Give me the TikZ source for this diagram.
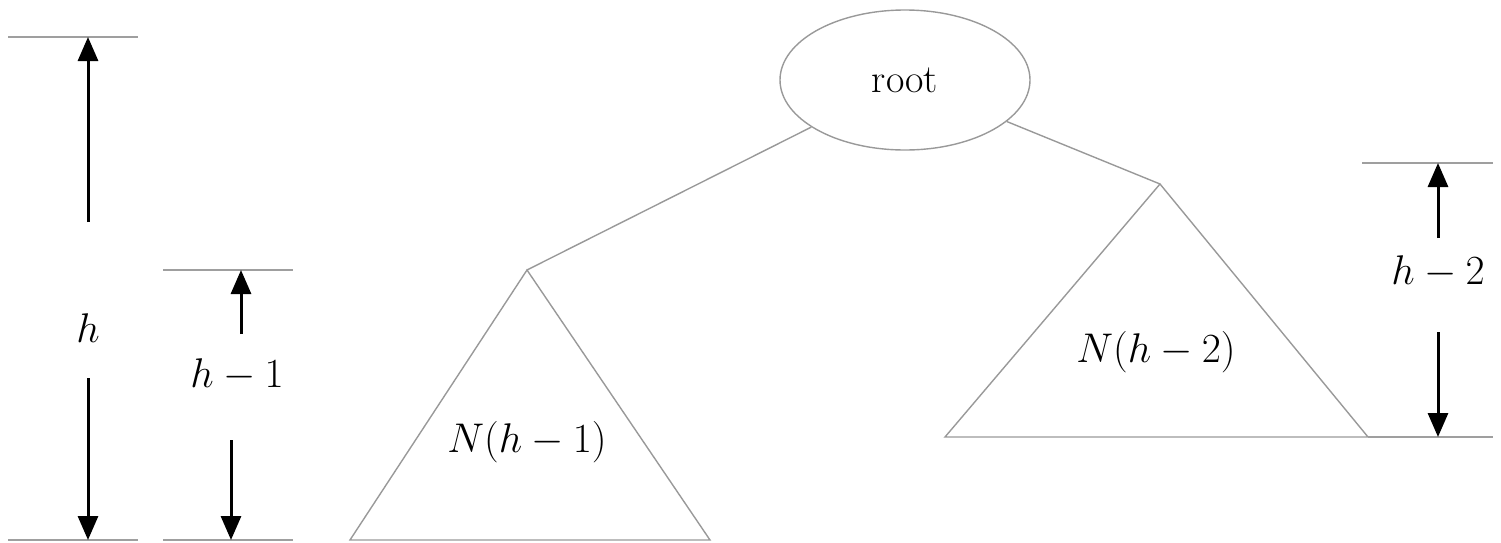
\documentclass[tikz,border=0pt]{standalone}
\usetikzlibrary{arrows.meta,shapes.geometric}
\begin{document}
\begin{tikzpicture}[x=0.5pt,y=-0.5pt,
  refline/.style={draw=gray!75,line width=0.8pt},
  dimarrow/.style={draw=black,line width=1.5pt,-{Triangle[length=12pt,width=10pt]}},
  treeline/.style={draw=gray!80,line width=0.7pt},
  lbl/.style={inner sep=0pt,font=\fontsize{20}{23}\selectfont}]
\useasboundingbox (0,0) rectangle (1501,542);
% reference lines (left)
\coordinate (t0a) at (8,37);   \coordinate (t0b) at (138,37);
\coordinate (b0a) at (8,540);  \coordinate (b0b) at (138,540);
\coordinate (t1a) at (163,270); \coordinate (t1b) at (293,270);
\coordinate (b1a) at (163,540); \coordinate (b1b) at (293,540);
\draw[refline] (t0a) -- (t0b);
\draw[refline] (b0a) -- (b0b);
\draw[refline] (t1a) -- (t1b);
\draw[refline] (b1a) -- (b1b);
% h
\node[lbl] (hl) at (88,328) {$h$};
\coordinate (hu0) at (88,222); \coordinate (hu1) at (88,37);
\coordinate (hd0) at (88,378); \coordinate (hd1) at (88,540);
\draw[dimarrow] (hu0) -- (hu1);
\draw[dimarrow] (hd0) -- (hd1);
% h-1
\node[lbl] (h1l) at (237,375) {$h-1$};
\coordinate (h1u0) at (241,334); \coordinate (h1u1) at (241,270);
\coordinate (h1d0) at (231,440); \coordinate (h1d1) at (231,540);
\draw[dimarrow] (h1u0) -- (h1u1);
\draw[dimarrow] (h1d0) -- (h1d1);
% root
\node[ellipse,draw=gray!80,line width=0.7pt,minimum width=125pt,minimum height=70pt,lbl] (root) at (905,80) {root};
% left subtree
\coordinate (la) at (527,270); \coordinate (ll) at (350,540); \coordinate (lr) at (710,540);
\draw[treeline] (la) -- (ll) -- (lr) -- cycle;
\node[lbl] (nl) at (527,442) {$N(h-1)$};
% right subtree
\coordinate (ra) at (1160,184); \coordinate (rl) at (945,437); \coordinate (rr) at (1368,437);
\draw[treeline] (ra) -- (rl) -- (rr) -- cycle;
\node[lbl] (nr) at (1156,352) {$N(h-2)$};
% edges
\draw[treeline] (root) -- (la);
\draw[treeline] (root) -- (ra);
% right reference lines
\coordinate (t2a) at (1362,163); \coordinate (t2b) at (1493,163);
\coordinate (b2b) at (1493,437);
\draw[refline] (t2a) -- (t2b);
\draw[refline] (rr) -- (b2b);
% h-2
\node[lbl] (h2l) at (1438,272) {$h-2$};
\coordinate (h2u0) at (1438,238); \coordinate (h2u1) at (1438,163);
\coordinate (h2d0) at (1438,332); \coordinate (h2d1) at (1438,437);
\draw[dimarrow] (h2u0) -- (h2u1);
\draw[dimarrow] (h2d0) -- (h2d1);
\end{tikzpicture}
\end{document}
